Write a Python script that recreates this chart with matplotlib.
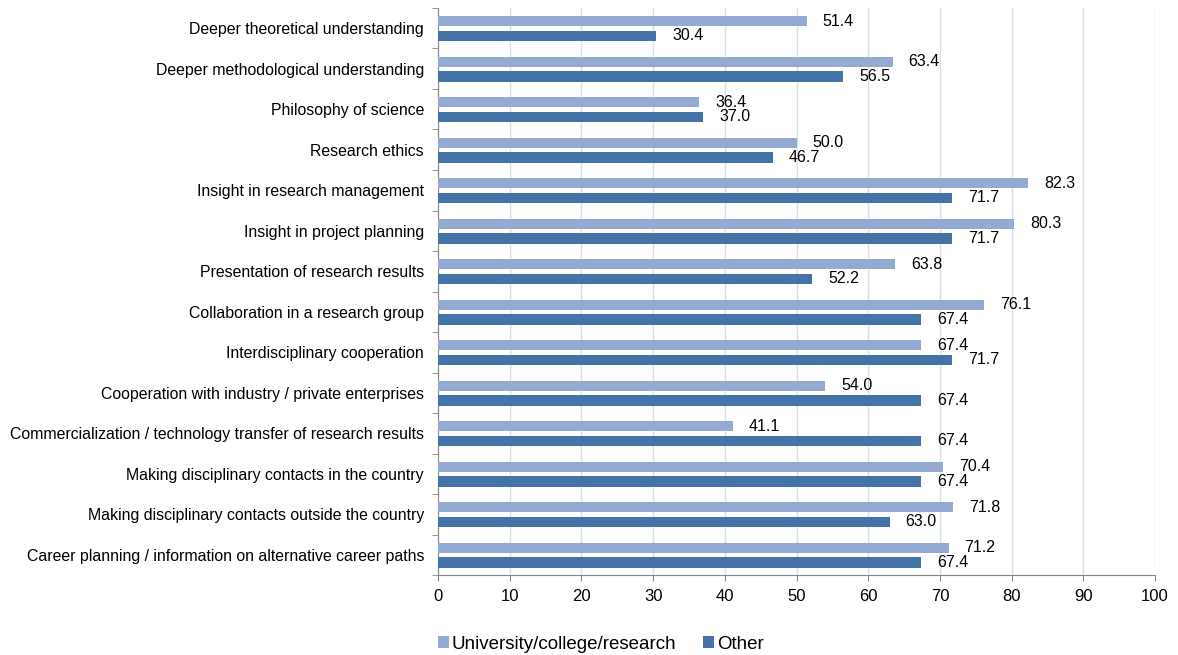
import numpy as np
import matplotlib.pyplot as plt

plt.rcParams['font.family'] = ['Liberation Sans', 'DejaVu Sans']

categories = [
    'Deeper theoretical understanding',
    'Deeper methodological understanding',
    'Philosophy of science',
    'Research ethics',
    'Insight in research management',
    'Insight in project planning',
    'Presentation of research results',
    'Collaboration in a research group',
    'Interdisciplinary cooperation',
    'Cooperation with industry / private enterprises',
    'Commercialization / technology transfer of research results',
    'Making disciplinary contacts in the country',
    'Making disciplinary contacts outside the country',
    'Career planning / information on alternative career paths',
]
university = [51.4, 63.4, 36.4, 50.0, 82.3, 80.3, 63.8, 76.1, 67.4, 54.0, 41.1, 70.4, 71.8, 71.2]
other = [30.4, 56.5, 37.0, 46.7, 71.7, 71.7, 52.2, 67.4, 71.7, 67.4, 67.4, 67.4, 63.0, 67.4]

light = '#95aad3'
dark = '#4473a8'

fig = plt.figure(figsize=(11.78, 6.55), dpi=100)
ax = fig.add_axes([0.3718, 0.1221, 0.6087, 0.8657])

y = np.arange(len(categories))
h = 0.25
b1 = ax.barh(y - 0.17, university, height=h, color=light, label='University/college/research', zorder=3)
b2 = ax.barh(y + 0.19, other, height=h, color=dark, label='Other', zorder=3)

for bars, vals in [(b1, university), (b2, other)]:
    for bar, v in zip(bars, vals):
        ax.annotate('%.1f' % v, (bar.get_width(), bar.get_y() + bar.get_height() / 2),
                    xytext=(16, 0), textcoords='offset pixels', va='center', ha='left',
                    fontsize=11.5)

ax.set_ylim(len(categories) - 0.5, -0.5)
ax.set_xlim(0, 100)
ax.set_xticks(np.arange(0, 101, 10))
ax.set_yticks(y)
ax.set_yticklabels(categories, fontsize=11.4)
ax.set_yticks(np.arange(-0.5, len(categories), 1), minor=True)
ax.tick_params(axis='y', which='major', length=0, pad=10)
ax.tick_params(axis='y', which='minor', length=4, color='#868686')
ax.tick_params(axis='x', labelsize=12, length=4, pad=6, color='#868686')

ax.grid(axis='x', color='#d5dff0', linewidth=1, zorder=0)
for s in ['top', 'right']:
    ax.spines[s].set_visible(False)
for s in ['left', 'bottom']:
    ax.spines[s].set_color('#868686')

fig.legend(handles=[b1, b2], loc='lower center', bbox_to_anchor=(0.51, -0.022), ncol=2,
           frameon=False, fontsize=13.5, handlelength=0.6, handleheight=0.6,
           handletextpad=0.15, columnspacing=1.4)

fig.savefig('out.png', dpi=100)
